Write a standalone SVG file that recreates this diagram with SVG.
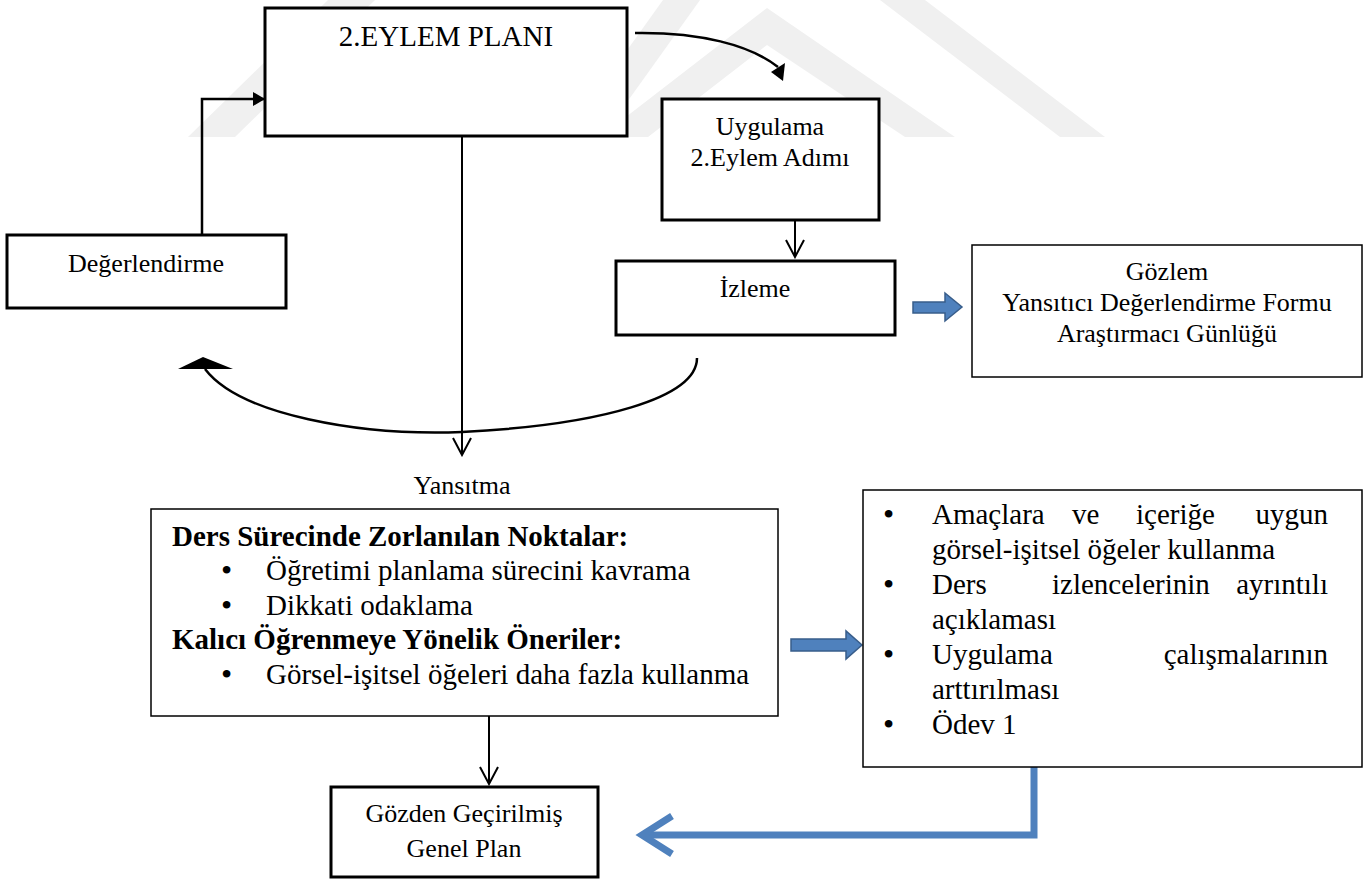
<svg xmlns="http://www.w3.org/2000/svg" width="1370" height="880" viewBox="0 0 1370 880">
  <style>
    .t { font-family: "Liberation Serif", "Times New Roman", serif; fill: #000; }
    .s26 { font-size: 26px; }
    .s29 { font-size: 29px; }
    .bul { font-size: 32px; }
    .b { font-weight: bold; }
    .mid { text-anchor: middle; }
    .end { text-anchor: end; }
    .thick { fill: #fff; stroke: #000; stroke-width: 3; }
    .thin { fill: #fff; stroke: #000; stroke-width: 1.5; }
    .wire { fill: none; stroke: #000; stroke-width: 2; }
    .wireB { fill: none; stroke: #000; stroke-width: 2.5; }
    .head { fill: #000; stroke: none; }
    .blockArrow { fill: #4F81BD; stroke: #385D8A; stroke-width: 1.5; }
    .blueLine { fill: none; stroke: #4F81BD; stroke-width: 7; stroke-linejoin: miter; }
    .wm { fill: #f0f0f0; }
  </style>
  <defs>
    <marker id="vee" viewBox="0 0 20 20" refX="18" refY="10" markerWidth="20" markerHeight="20" markerUnits="userSpaceOnUse" orient="auto">
      <path d="M1,1 L18,10 L1,19" fill="none" stroke="#000" stroke-width="2"/>
    </marker>
    <marker id="tri" viewBox="0 0 12 14" refX="11" refY="7" markerWidth="12" markerHeight="14" markerUnits="userSpaceOnUse" orient="auto">
      <path d="M0,0 L12,7 L0,14 Z" fill="#000"/>
    </marker>
  </defs>

  <rect width="1370" height="880" fill="#fff"/>

  <!-- faint background emblem -->
  <g id="emblem">
    <polygon class="wm" points="188,137 235,137 375,0 328,0"/>
    <polygon class="wm" points="565,137 602,137 700,0 663,0"/>
    <polygon class="wm" points="600,137 767,8 955,137 905,137 767,45 648,137"/>
    <polygon class="wm" points="880,0 925,0 1105,137 1060,137"/>
  </g>

  <!-- connectors -->
  <g id="connectors">
    <!-- Değerlendirme -> 2.EYLEM PLANI -->
    <polyline class="wireB" points="202,235 202,99 264,99" marker-end="url(#tri)"/>
    <!-- 2.EYLEM PLANI -> Uygulama -->
    <path class="wireB" d="M635,33 C700,32 750,45 778,67"/>
    <polygon class="head" points="771,72 785,63 783,81"/>
    <!-- 2.EYLEM PLANI -> Yansıtma -->
    <line class="wire" x1="462" y1="136" x2="462" y2="455" marker-end="url(#vee)"/>
    <!-- Uygulama -> İzleme -->
    <line class="wire" x1="795" y1="221" x2="795" y2="257" marker-end="url(#vee)"/>
    <!-- İzleme -> Değerlendirme (curved return) -->
    <path class="wireB" d="M697,358 C697,398 600,425 462,432 C360,436 240,415 205,369"/>
    <polygon class="head" points="178,369 233,369 203,357"/>
    <!-- İzleme => Gözlem -->
    <polygon class="blockArrow" points="913,302 945,302 945,293 962,307 945,321 945,313 913,313"/>
    <!-- Yansıtma box => suggestions box -->
    <polygon class="blockArrow" points="791,639 846,639 846,631 862,645 846,659 846,651 791,651"/>
    <!-- Yansıtma box -> Gözden Geçirilmiş Genel Plan -->
    <line class="wire" x1="489" y1="716" x2="489" y2="784" marker-end="url(#vee)"/>
    <!-- suggestions box -> Gözden Geçirilmiş Genel Plan -->
    <polyline class="blueLine" points="1034,767 1034,835 642,835"/>
    <polyline class="blueLine" points="672,816 642,835 672,854"/>
  </g>

  <g id="plan">
    <rect class="thick" x="265" y="8" width="362" height="128"/>
    <text class="t s29 mid" x="446" y="46">2.EYLEM PLANI</text>
  </g>

  <g id="uygulama">
    <rect class="thick" x="662" y="99" width="217" height="121"/>
    <text class="t s26 mid" x="770" y="135">Uygulama</text>
    <text class="t s26 mid" x="770" y="166">2.Eylem Adımı</text>
  </g>

  <g id="degerlendirme">
    <rect class="thick" x="7" y="235" width="279" height="73"/>
    <text class="t s26 mid" x="146" y="272">Değerlendirme</text>
  </g>

  <g id="izleme">
    <rect class="thick" x="616" y="261" width="279" height="74"/>
    <text class="t s26 mid" x="755" y="297">İzleme</text>
  </g>

  <g id="gozlem">
    <rect class="thin" x="972" y="245" width="390" height="132"/>
    <text class="t s26 mid" x="1167" y="280">Gözlem</text>
    <text class="t s26 mid" x="1167" y="311">Yansıtıcı Değerlendirme Formu</text>
    <text class="t s26 mid" x="1167" y="342">Araştırmacı Günlüğü</text>
  </g>

  <g id="yansitma">
    <text class="t s26 mid" x="462" y="494">Yansıtma</text>
    <rect class="thin" x="151" y="509" width="627" height="207"/>
    <text class="t s29 b" x="172" y="546">Ders Sürecinde Zorlanılan Noktalar:</text>
    <text class="t bul" x="221" y="581">•</text>
    <text class="t s29" x="266" y="580">Öğretimi planlama sürecini kavrama</text>
    <text class="t bul" x="221" y="616">•</text>
    <text class="t s29" x="266" y="615">Dikkati odaklama</text>
    <text class="t s29 b" x="172" y="649">Kalıcı Öğrenmeye Yönelik Öneriler:</text>
    <text class="t bul" x="221" y="685">•</text>
    <text class="t s29" x="266" y="684">Görsel-işitsel öğeleri daha fazla kullanma</text>
  </g>

  <g id="oneriler">
    <rect class="thin" x="863" y="490" width="499" height="277"/>
    <text class="t bul" x="883" y="525">•</text>
    <text class="t s29" x="932" y="524">Amaçlara</text>
    <text class="t s29" x="1072" y="524">ve</text>
    <text class="t s29" x="1136" y="524">içeriğe</text>
    <text class="t s29 end" x="1328" y="524">uygun</text>
    <text class="t s29" x="932" y="559">görsel-işitsel öğeler kullanma</text>
    <text class="t bul" x="883" y="595">•</text>
    <text class="t s29" x="932" y="594">Ders</text>
    <text class="t s29" x="1052" y="594">izlencelerinin</text>
    <text class="t s29 end" x="1328" y="594">ayrıntılı</text>
    <text class="t s29" x="932" y="629">açıklaması</text>
    <text class="t bul" x="883" y="665">•</text>
    <text class="t s29" x="932" y="664">Uygulama</text>
    <text class="t s29 end" x="1328" y="664">çalışmalarının</text>
    <text class="t s29" x="932" y="699">arttırılması</text>
    <text class="t bul" x="883" y="735">•</text>
    <text class="t s29" x="932" y="734">Ödev 1</text>
  </g>

  <g id="genel-plan">
    <rect class="thick" x="331" y="787" width="267" height="90"/>
    <text class="t s26 mid" x="464" y="822">Gözden Geçirilmiş</text>
    <text class="t s26 mid" x="464" y="857">Genel Plan</text>
  </g>
</svg>
